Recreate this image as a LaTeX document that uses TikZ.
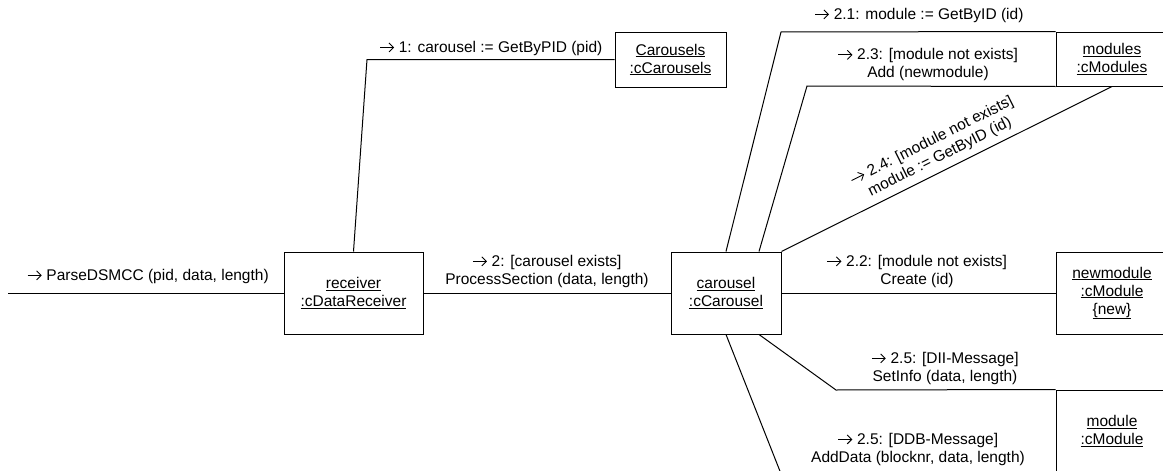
\documentclass[tikz,border=0pt]{standalone}
\usepackage{fontspec}
\setmainfont{Liberation Sans}
\usetikzlibrary{calc,arrows.meta}
% small open arrow put in front of each message
\newcommand{\msgarr}{\tikz[baseline=-4.6pt]\draw[line width=0.9pt,
  -{Straight Barb[length=4.5pt,width=9pt]}] (0pt,0pt) -- (14pt,0pt);}
\begin{document}
\begin{tikzpicture}[x=1pt,y=-1pt,
  txt/.style={font=\fontsize{15.5}{18}\selectfont},
  objbox/.style={txt, draw, line width=1pt, align=center, inner sep=0pt,
    minimum width=#1},
  objbox/.default=112pt,
  link/.style={line width=1pt},
  msg/.style={txt, align=center, inner sep=0pt}]
\clip (0,0) rectangle (1163,471);

% objects
\node[objbox=139pt, minimum height=82pt] (receiver) at (353.5,293)
  {\underline{receiver}\\\underline{:cDataReceiver}};
\node[objbox=110pt, minimum height=82pt] (carousel) at (726,293)
  {\underline{carousel}\\\underline{:cCarousel}};
\node[objbox=111pt, minimum height=55pt] (carousels) at (670.5,59.5)
  {\underline{Carousels}\\\underline{:cCarousels}};
\node[objbox, minimum height=54pt] (modules) at (1112,59)
  {\underline{modules}\\\underline{:cModules}};
\node[objbox, minimum height=82pt] (newmodule) at (1112,293)
  {\underline{newmodule}\\\underline{:cModule}\\\underline{\{new\}}};
\node[objbox, minimum height=82pt] (module) at (1112,431)
  {\underline{module}\\\underline{:cModule}};

% bend points and free ends
\coordinate (in) at (8,293);
\coordinate (b1) at (367,59.5);
\coordinate (b21) at (781,32);
\coordinate (b23) at (807,86);
\coordinate (b25) at (836,390);
\coordinate (out25) at (789,494);

% links
\draw[link] (in) -- (receiver.west);
\draw[link] (receiver.north) -- (b1) -- (carousels.west);
\draw[link] (receiver.east) -- (carousel.west);
\draw[link] (carousel.north) -- (b21) -- (modules.north west);
\draw[link] ($(carousel.north)+(33,0)$) -- (b23) -- (modules.south west);
\draw[link] (carousel.north east) -- (modules.south);
\draw[link] (carousel.east) -- (newmodule.west);
\draw[link] ($(carousel.south)+(33,0)$) -- (b25) -- (module.north west);
\draw[link] (carousel.south) -- (out25);

% messages
\node[msg] (m0) at (148,276) {\msgarr{} ParseDSMCC (pid, data, length)};
\node[msg] (m1) at (491,48) {\msgarr{} 1: carousel := GetByPID (pid)};
\node[msg] (m2) at (547,271) {\msgarr{} 2: [carousel exists]\\ProcessSection (data, length)};
\node[msg] (m21) at (919,15) {\msgarr{} 2.1: module := GetByID (id)};
\node[msg] (m23) at (928,64.5) {\msgarr{} 2.3: [module not exists]\\Add (newmodule)};
\node[msg, rotate=26.6] (m24) at (936,149) {\msgarr{} 2.4: [module not exists]\\module := GetByID (id)};
\node[msg] (m22) at (917,271) {\msgarr{} 2.2: [module not exists]\\Create (id)};
\node[msg] (m25a) at (945,368) {\msgarr{} 2.5: [DII-Message]\\SetInfo (data, length)};
\node[msg] (m25b) at (918,449) {\msgarr{} 2.5: [DDB-Message]\\AddData (blocknr, data, length)};
\end{tikzpicture}
\end{document}
